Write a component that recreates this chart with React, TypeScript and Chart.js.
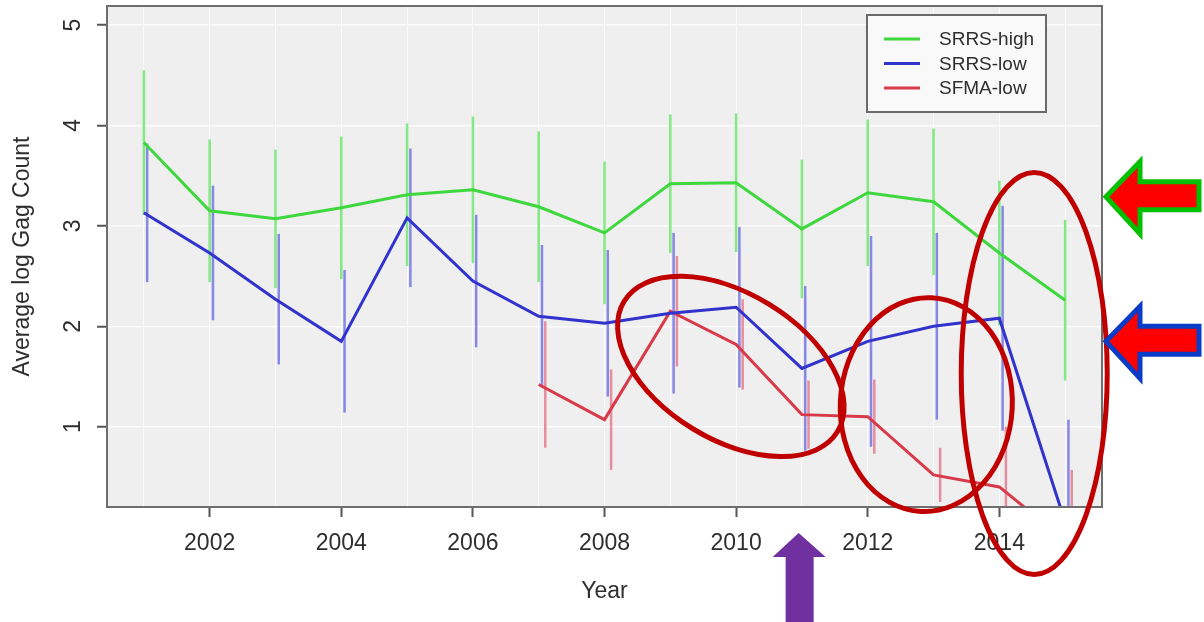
import React, { useEffect, useRef } from "react";
import { Chart, registerables } from "chart.js";

Chart.register(...registerables);

// ---- data ----
const years = [2001, 2002, 2003, 2004, 2005, 2006, 2007, 2008, 2009, 2010, 2011, 2012, 2013, 2014, 2015];
const srrsHighMean = [3.83, 3.15, 3.07, 3.18, 3.31, 3.36, 3.19, 2.93, 3.42, 3.43, 2.97, 3.33, 3.24, 2.73, 2.26];
const srrsHighErr = [0.72, 0.71, 0.69, 0.71, 0.71, 0.73, 0.75, 0.71, 0.69, 0.69, 0.69, 0.73, 0.73, 0.72, 0.8];
const srrsLowMean = [3.13, 2.73, 2.27, 1.85, 3.08, 2.45, 2.1, 2.03, 2.13, 2.19, 1.58, 1.85, 2.0, 2.08, 0.05];
const srrsLowErr = [0.69, 0.67, 0.65, 0.71, 0.69, 0.66, 0.71, 0.73, 0.8, 0.8, 0.82, 1.05, 0.93, 1.12, 1.02];
const sfmaYears = [2007, 2008, 2009, 2010, 2011, 2012, 2013, 2014, 2015];
const sfmaLowMean = [1.42, 1.07, 2.15, 1.82, 1.12, 1.1, 0.52, 0.4, -0.13];
const sfmaLowErr = [0.63, 0.5, 0.55, 0.45, 0.34, 0.37, 0.27, 0.6, 0.7];
const seriesLabels = ["SRRS-high", "SRRS-low", "SFMA-low"];
const yTicks = [1, 2, 3, 4, 5];
const xTitle = "Year";
const yTitle = "Average log Gag Count";

const lineColors = ["#3ed83e", "#3232cc", "#d83a4a"];
const barColors = ["rgba(110,230,110,0.85)", "rgba(100,100,225,0.75)", "rgba(225,110,130,0.75)"];
const barOffsets = [0, 0.05, 0.1];

const FONT = "'Liberation Sans', Arial, sans-serif";

const seriesData = [
  { xs: years, mean: srrsHighMean, err: srrsHighErr },
  { xs: years, mean: srrsLowMean, err: srrsLowErr },
  { xs: sfmaYears, mean: sfmaLowMean, err: sfmaLowErr },
];

const customPlugin = {
  id: "customDraw",
  beforeDraw(chart: any) {
    const { ctx, chartArea: a } = chart;
    ctx.save();
    ctx.fillStyle = "#ffffff";
    ctx.fillRect(0, 0, chart.width, chart.height);
    ctx.fillStyle = "#efefef";
    ctx.fillRect(a.left, a.top, a.right - a.left, a.bottom - a.top);
    ctx.restore();
  },
  beforeDatasetsDraw(chart: any) {
    const { ctx, chartArea: a, scales } = chart;
    const xs = scales.x;
    const ys = scales.y;
    ctx.save();
    ctx.beginPath();
    ctx.rect(a.left, a.top, a.right - a.left, a.bottom - a.top);
    ctx.clip();
    ctx.lineWidth = 2.5;
    seriesData.forEach((s, i) => {
      ctx.strokeStyle = barColors[i];
      s.xs.forEach((yr, j) => {
        const px = xs.getPixelForValue(yr + barOffsets[i]);
        ctx.beginPath();
        ctx.moveTo(px, ys.getPixelForValue(s.mean[j] - s.err[j]));
        ctx.lineTo(px, ys.getPixelForValue(s.mean[j] + s.err[j]));
        ctx.stroke();
      });
    });
    ctx.restore();
  },
  afterDraw(chart: any) {
    const { ctx, chartArea: a, scales } = chart;
    const ys = scales.y;
    const xs = scales.x;
    ctx.save();
    // plot border
    ctx.strokeStyle = "#6e6e6e";
    ctx.lineWidth = 2;
    ctx.strokeRect(a.left, a.top, a.right - a.left, a.bottom - a.top);

    // y tick labels (rotated, R style)
    ctx.fillStyle = "#2e2e2e";
    ctx.font = `23px ${FONT}`;
    ctx.textAlign = "center";
    ctx.textBaseline = "alphabetic";
    yTicks.forEach((v) => {
      const py = ys.getPixelForValue(v);
      ctx.save();
      ctx.translate(a.left - 27, py);
      ctx.rotate(-Math.PI / 2);
      ctx.fillText(String(v), 0, 0);
      ctx.restore();
    });
    // y title
    ctx.save();
    ctx.translate(29, (a.top + a.bottom) / 2);
    ctx.rotate(-Math.PI / 2);
    ctx.fillText(yTitle, 0, 0);
    ctx.restore();
    // x title
    ctx.fillText(xTitle, (a.left + a.right) / 2, 598);

    // legend
    const lx = a.right - 235;
    const ly = a.top + 9;
    ctx.fillStyle = "#f9f9f9";
    ctx.fillRect(lx, ly, 179, 97);
    ctx.strokeStyle = "#6a6a6a";
    ctx.lineWidth = 2;
    ctx.strokeRect(lx, ly, 179, 97);
    ctx.font = `19px ${FONT}`;
    ctx.textAlign = "left";
    ctx.textBaseline = "middle";
    chart.data.datasets.forEach((ds: any, i: number) => {
      const yy = ly + 24 + i * 24.5;
      ctx.strokeStyle = ds.borderColor;
      ctx.lineWidth = 3;
      ctx.beginPath();
      ctx.moveTo(lx + 17, yy);
      ctx.lineTo(lx + 53, yy);
      ctx.stroke();
      ctx.fillStyle = "#2e2e2e";
      ctx.fillText(ds.label, lx + 72, yy + 1);
    });

    // annotations: ellipses
    ctx.strokeStyle = "#c00000";
    ctx.lineWidth = 5;
    const ell = (cxv: number, cyv: number, rx: number, ry: number, rot: number) => {
      ctx.beginPath();
      ctx.ellipse(xs.getPixelForValue(cxv), ys.getPixelForValue(cyv), rx, ry, rot, 0, Math.PI * 2);
      ctx.stroke();
    };
    ell(2009.92, 1.6, 125, 73, 0.548);
    ell(2012.89, 1.22, 86, 107, 0.05);
    ell(2014.53, 1.53, 73, 201, 0.0);

    // arrows (left-pointing)
    const leftArrow = (tipY: number, stroke: string) => {
      const tx = a.right + 4;
      ctx.beginPath();
      ctx.moveTo(tx, tipY);
      ctx.lineTo(tx + 34, tipY - 35);
      ctx.lineTo(tx + 34, tipY - 15);
      ctx.lineTo(1199, tipY - 15);
      ctx.lineTo(1199, tipY + 13);
      ctx.lineTo(tx + 34, tipY + 13);
      ctx.lineTo(tx + 34, tipY + 37);
      ctx.closePath();
      ctx.fillStyle = "#ff0000";
      ctx.fill();
      ctx.strokeStyle = stroke;
      ctx.lineWidth = 5;
      ctx.lineJoin = "miter";
      ctx.stroke();
    };
    leftArrow(ys.getPixelForValue(3.29), "#00c000");
    leftArrow(ys.getPixelForValue(1.85), "#0a3cc8");

    // purple up arrow
    const px = xs.getPixelForValue(2010.95);
    ctx.beginPath();
    ctx.moveTo(px, 533);
    ctx.lineTo(px + 27, 557);
    ctx.lineTo(px + 15, 557);
    ctx.lineTo(px + 15, 622);
    ctx.lineTo(px - 13, 622);
    ctx.lineTo(px - 13, 557);
    ctx.lineTo(px - 26, 557);
    ctx.closePath();
    ctx.fillStyle = "#7030a0";
    ctx.fill();

    ctx.restore();
  },
};

export default function App() {
  const ref = useRef<HTMLCanvasElement | null>(null);
  useEffect(() => {
    document.body.style.margin = "0";
    const canvas = ref.current;
    if (!canvas) return;
    const mk = (xsArr: number[], ysArr: number[]) => xsArr.map((x, i) => ({ x, y: ysArr[i] }));
    const chart = new Chart(canvas, {
      type: "line",
      data: {
        datasets: [
          { label: seriesLabels[0], data: mk(years, srrsHighMean), borderColor: lineColors[0], borderWidth: 3, pointRadius: 0, tension: 0 },
          { label: seriesLabels[1], data: mk(years, srrsLowMean), borderColor: lineColors[1], borderWidth: 3, pointRadius: 0, tension: 0 },
          { label: seriesLabels[2], data: mk(sfmaYears, sfmaLowMean), borderColor: lineColors[2], borderWidth: 3, pointRadius: 0, tension: 0 },
        ],
      },
      options: {
        responsive: false,
        animation: false,
        devicePixelRatio: 1,
        layout: { padding: { left: 0, top: 6, right: 102, bottom: 0 } },
        plugins: { legend: { display: false }, tooltip: { enabled: false } },
        scales: {
          x: {
            type: "linear",
            min: 2000.44,
            max: 2015.56,
            afterBuildTicks: (s: any) => {
              s.ticks = years.map((v) => ({ value: v }));
            },
            afterFit: (s: any) => {
              s.height = 115;
            },
            ticks: {
              autoSkip: false,
              maxRotation: 0,
              minRotation: 0,
              padding: 13,
              color: "#2e2e2e",
              font: { family: FONT, size: 23 },
              callback: (v: any) => (Number(v) % 2 === 0 ? String(v) : ""),
            },
            grid: {
              color: "#fbfbfb",
              lineWidth: 1,
              tickLength: 10,
              tickWidth: 2,
              tickColor: (c: any) => (c.tick && c.tick.value % 2 === 0 ? "#555555" : "rgba(0,0,0,0)"),
            },
            border: { display: false },
          },
          y: {
            type: "linear",
            min: 0.2,
            max: 5.19,
            afterBuildTicks: (s: any) => {
              s.ticks = yTicks.map((v) => ({ value: v }));
            },
            afterFit: (s: any) => {
              s.width = 107;
            },
            ticks: { display: false },
            grid: { color: "#fbfbfb", lineWidth: 1.5, tickLength: 10, tickWidth: 2, tickColor: "#555555" },
            border: { display: false },
          },
        },
      },
      plugins: [customPlugin],
    });
    return () => chart.destroy();
  }, []);
  return (
    <div style={{ width: 1204, height: 622 }}>
      <canvas ref={ref} width={1204} height={622} style={{ display: "block" }} />
    </div>
  );
}
